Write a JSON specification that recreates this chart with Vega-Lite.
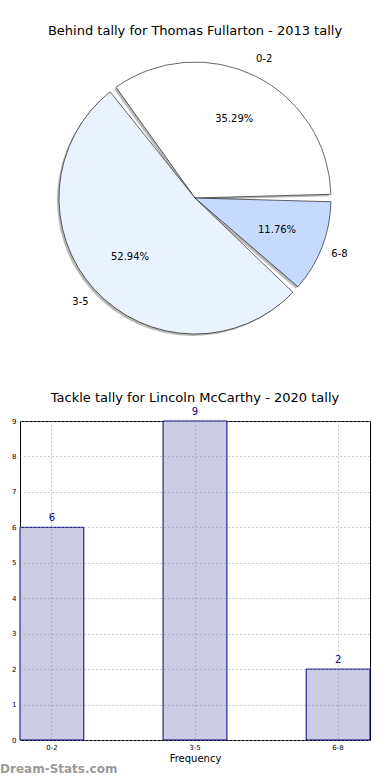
{
  "$schema": "https://vega.github.io/schema/vega-lite/v6.json",
  "padding": {"left": 0, "top": 25, "right": 20, "bottom": 2},
  "background": "white",
  "config": {
    "font": "DejaVu Sans",
    "view": {"stroke": null},
    "title": {"fontWeight": "normal", "fontSize": 13, "color": "black", "font": "DejaVu Sans"}
  },
  "title": {"text": "Dream-Stats.com", "orient": "bottom", "anchor": "start", "fontSize": 12, "fontWeight": "bold", "color": "#9a9a9a", "offset": 0, "dx": -11},
  "spacing": 41,
  "vconcat": [
    {
      "width": 350,
      "height": 304,
      "title": {"text": "Behind tally for Thomas Fullarton - 2013 tally", "offset": 8},
      "data": {"values": [
        {"cat": "0-2", "count": 6, "pct": "35.29%"},
        {"cat": "3-5", "count": 9, "pct": "52.94%"},
        {"cat": "6-8", "count": 2, "pct": "11.76%"}
      ]},
      "encoding": {
        "theta": {"field": "count", "type": "quantitative", "stack": true, "scale": {"range": [1.5708, 7.854]}},
        "order": {"field": "cat", "sort": "descending"}
      },
      "layer": [
        {
          "mark": {"type": "arc", "outerRadius": 136, "padAngle": 0.055, "fill": "#808080", "opacity": 0.55, "xOffset": -2, "yOffset": 2}
        },
        {
          "mark": {"type": "arc", "outerRadius": 136, "padAngle": 0.055, "stroke": "black", "strokeWidth": 0.6},
          "encoding": {
            "color": {"field": "cat", "type": "nominal", "legend": null, "scale": {"domain": ["0-2", "3-5", "6-8"], "range": ["#ffffff", "#ebf2ff", "#c6d9ff"]}}
          }
        },
        {
          "mark": {"type": "text", "radius": 88, "fontSize": 10, "color": "black"},
          "encoding": {"text": {"field": "pct"}}
        },
        {
          "mark": {"type": "text", "radius": 155, "fontSize": 10, "color": "black"},
          "encoding": {"text": {"field": "cat"}}
        }
      ]
    },
    {
      "width": 350,
      "height": 319,
      "title": {"text": "Tackle tally for Lincoln McCarthy - 2020 tally", "offset": 2},
      "view": {"stroke": "black", "strokeWidth": 1},
      "data": {"values": [
        {"cat": "0-2", "count": 6},
        {"cat": "3-5", "count": 9},
        {"cat": "6-8", "count": 2}
      ]},
      "encoding": {
        "x": {"field": "cat", "type": "nominal", "sort": null,
          "scale": {"paddingInner": 0.554, "paddingOuter": 0},
          "axis": {"title": "Frequency", "titleFontSize": 10, "titleFontWeight": "normal", "titlePadding": 3, "labelFontSize": 7, "labelAngle": 0, "labelPadding": 3, "ticks": false, "domain": false, "grid": true, "gridDash": [1, 3], "gridColor": "#999", "gridWidth": 1, "zindex": 1, "labelColor": "black", "titleColor": "black", "minExtent": 0}},
        "y": {"field": "count", "type": "quantitative",
          "scale": {"domain": [0, 9], "nice": false},
          "axis": {"title": null, "values": [0, 1, 2, 3, 4, 5, 6, 7, 8, 9], "labelFontSize": 7, "labelPadding": 4, "ticks": false, "domain": false, "grid": true, "gridDash": [1, 3], "gridColor": "#999", "gridWidth": 1, "zindex": 1, "labelColor": "black", "minExtent": 0}}
      },
      "layer": [
        {"mark": {"type": "bar", "fill": "#ccccE4", "stroke": "#000080", "strokeWidth": 1}},
        {"mark": {"type": "text", "dy": -9, "fontSize": 10, "color": "#000080"}, "encoding": {"text": {"field": "count"}}}
      ]
    }
  ]
}
